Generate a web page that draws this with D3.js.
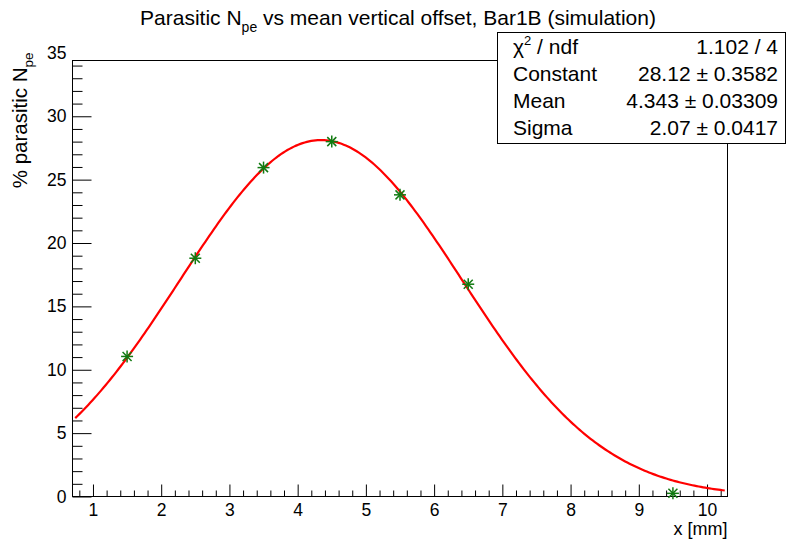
<!DOCTYPE html>
<html>
<head>
<meta charset="utf-8">
<script src="https://cdn.jsdelivr.net/npm/d3@7"></script>
<style>
  html, body { margin: 0; padding: 0; background: #fff; }
  svg { display: block; font-family: "Liberation Sans", Arial, Helvetica, sans-serif; }
</style>
</head>
<body>
<svg id="chart" width="787" height="542"></svg>
<script>
// Measured points: x offset [mm] vs parasitic fraction [%]
const xValues = [1.5, 2.5, 3.5, 4.5, 5.5, 6.5, 9.5];
const yValues = [11.05, 18.8, 25.95, 28.0, 23.8, 16.75, 0.25];

// Gaussian fit results
const fitNames = ["Constant", "Mean", "Sigma"];
const fitValues = [28.12, 4.343, 2.07];
const fitErrors = ["0.3582", "0.03309", "0.0417"];
const fitChi2 = "1.102 / 4";
const fitRange = [0.74, 10.26];

// Axis ticks
const xMajorTicks = [1, 2, 3, 4, 5, 6, 7, 8, 9, 10];
const yMajorTicks = [0, 5, 10, 15, 20, 25, 30, 35];

const svg = d3.select("#chart");
const frame = { left: 72.5, right: 727.5, top: 60.5, bottom: 496.5 };

const x = d3.scaleLinear().domain([0.7, 10.3]).range([frame.left, frame.right]);
const y = d3.scaleLinear().domain([0, 34.4]).range([frame.bottom, frame.top]);

// Frame
svg.append("rect")
  .attr("x", frame.left).attr("y", frame.top)
  .attr("width", frame.right - frame.left).attr("height", frame.bottom - frame.top)
  .attr("fill", "none").attr("stroke", "#000").attr("stroke-width", 1);

// Minor tick positions
const xMinor = d3.range(0.8, 10.3, 0.2).filter(v => Math.abs(v - Math.round(v)) > 1e-6);
const yMinor = d3.range(1, 34.4, 1).filter(v => v % 5 !== 0);

// X axis (ticks pointing into the frame)
const gx = svg.append("g").attr("transform", `translate(0,${frame.bottom})`);
gx.call(d3.axisBottom(x).tickValues(xMajorTicks).tickSize(-12).tickPadding(7).tickFormat(d3.format("d")));
const gxm = svg.append("g").attr("transform", `translate(0,${frame.bottom})`);
gxm.call(d3.axisBottom(x).tickValues(xMinor).tickSize(-6).tickFormat(""));

// Y axis
const gy = svg.append("g").attr("transform", `translate(${frame.left},0)`);
gy.call(d3.axisLeft(y).tickValues(yMajorTicks).tickSize(-19).tickPadding(6).tickFormat(d3.format("d")));
const gym = svg.append("g").attr("transform", `translate(${frame.left},0)`);
gym.call(d3.axisLeft(y).tickValues(yMinor).tickSize(-10).tickFormat(""));

// The top label sits above the frame edge; no tick line for it
gy.selectAll(".tick").filter(d => d > 34.4).select("line").remove();

[gx, gxm, gy, gym].forEach(g => {
  g.select(".domain").remove();
  g.selectAll(".tick line").attr("stroke", "#000").attr("stroke-width", 1);
  g.selectAll(".tick text")
    .attr("fill", "#000")
    .style("font-family", "'Liberation Sans', Arial, sans-serif")
    .style("font-size", "17.5px");
});

// Fitted Gaussian curve
const [cst, mean, sigma] = fitValues;
const gauss = v => cst * Math.exp(-0.5 * ((v - mean) / sigma) ** 2);
const curveX = d3.range(0, 301).map(i => fitRange[0] + (fitRange[1] - fitRange[0]) * i / 300);
svg.append("path")
  .datum(curveX)
  .attr("fill", "none")
  .attr("stroke", "#ff0000")
  .attr("stroke-width", 2.2)
  .attr("d", d3.line().x(d => x(d)).y(d => y(gauss(d))));

// Data points as asterisk markers
const r = 6;
const pts = svg.append("g").attr("stroke", "#117a11").attr("stroke-width", 1.5);
xValues.forEach((xv, i) => {
  const cx = x(xv), cy = y(yValues[i]);
  const g = pts.append("g").attr("transform", `translate(${cx},${cy})`);
  g.append("line").attr("x1", -r).attr("x2", r).attr("y1", 0).attr("y2", 0);
  g.append("line").attr("x1", 0).attr("x2", 0).attr("y1", -r).attr("y2", r);
  const d = r * 0.75;
  g.append("line").attr("x1", -d).attr("x2", d).attr("y1", -d).attr("y2", d);
  g.append("line").attr("x1", -d).attr("x2", d).attr("y1", d).attr("y2", -d);
});

// Title
const title = svg.append("text")
  .attr("x", 398).attr("y", 24.5)
  .attr("text-anchor", "middle")
  .style("font-size", "21px").attr("fill", "#000");
title.append("tspan").text("Parasitic N");
title.append("tspan").attr("dy", 7).style("font-size", "14px").text("pe");
title.append("tspan").attr("dy", -7).text(" vs mean vertical offset, Bar1B (simulation)");

// Axis titles
svg.append("text")
  .attr("x", frame.right).attr("y", 535)
  .attr("text-anchor", "end")
  .style("font-size", "18px").attr("fill", "#000")
  .text("x [mm]");

const ytitle = svg.append("text")
  .attr("transform", `translate(27,${frame.top - 8}) rotate(-90)`)
  .attr("text-anchor", "end")
  .style("font-size", "20.5px").attr("fill", "#000");
ytitle.append("tspan").text("% parasitic N");
ytitle.append("tspan").attr("dy", 6).style("font-size", "13.5px").text("pe");

// Statistics box
const box = { x: 497.5, y: 32.5, w: 288, h: 111 };
svg.append("rect")
  .attr("x", box.x).attr("y", box.y).attr("width", box.w).attr("height", box.h)
  .attr("fill", "#fff").attr("stroke", "#000").attr("stroke-width", 1);

const rowBase = [54, 81, 108, 134.5];
const labelX = 513, valueX = 778;
const statFont = "21px";

const chiLabel = svg.append("text").attr("x", labelX).attr("y", rowBase[0])
  .style("font-size", statFont).attr("fill", "#000");
chiLabel.append("tspan").text("\u03C7");
chiLabel.append("tspan").attr("dy", -9).style("font-size", "13px").text("2");
chiLabel.append("tspan").attr("dy", 9).text(" / ndf");
svg.append("text").attr("x", valueX).attr("y", rowBase[0]).attr("text-anchor", "end")
  .style("font-size", statFont).attr("fill", "#000").text(fitChi2);

fitNames.forEach((name, i) => {
  svg.append("text").attr("x", labelX).attr("y", rowBase[i + 1])
    .style("font-size", statFont).attr("fill", "#000").text(name);
  svg.append("text").attr("x", valueX).attr("y", rowBase[i + 1]).attr("text-anchor", "end")
    .style("font-size", statFont).attr("fill", "#000")
    .text(`${fitValues[i]} \u00B1 ${fitErrors[i]}`);
});
</script>
</body>
</html>
